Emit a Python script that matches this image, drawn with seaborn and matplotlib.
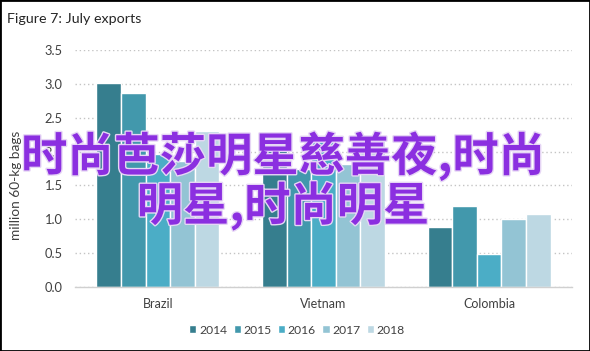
import matplotlib
matplotlib.use('Agg')
import matplotlib.pyplot as plt
import matplotlib.patheffects as pe
from matplotlib.patches import Rectangle
import seaborn as sns
import pandas as pd

countries = ['Brazil', 'Vietnam', 'Colombia']
years = ['2014', '2015', '2016', '2017', '2018']
v2014 = [3.01, 2.21, 0.89]
v2015 = [2.87, 1.75, 1.20]
v2016 = [1.96, 2.19, 0.49]
v2017 = [1.86, 1.82, 1.00]
v2018 = [2.31, 2.22, 1.07]
colors = ['#367e8e', '#4298ac', '#4badc6', '#93c4d4', '#bdd8e3']
yticks = [0.0, 0.5, 1.0, 1.5, 2.0, 2.5, 3.0, 3.5]
title = 'Figure 7: July exports'
ylabel = 'million 60-kg bags'
overlay = '时尚芭莎明星慈善夜,时尚\n明星,时尚明星'

series = [v2014, v2015, v2016, v2017, v2018]
rows = []
for yr, vals in zip(years, series):
    for c, v in zip(countries, vals):
        rows.append({'country': c, 'year': yr, 'value': v})
df = pd.DataFrame(rows)

sns.set_theme(style='white')
plt.rcParams['font.family'] = ['Lato', 'Noto Sans CJK SC', 'DejaVu Sans']

W, H = 590, 351
fig = plt.figure(figsize=(W / 100, H / 100), dpi=100)
ax = fig.add_axes([75 / W, 1 - 286.7 / H, 497 / W, 236.4 / H])

sns.barplot(data=df, x='country', y='value', hue='year', hue_order=years,
            order=countries, palette=colors, width=0.744, gap=0,
            saturation=1, errorbar=None, ax=ax)

ax.set_ylim(0, 3.5)
ax.set_xlim(-0.5, 2.5)
ax.set_yticks(yticks)
ax.set_yticklabels([f'{t:.1f}' for t in yticks])
ax.yaxis.grid(True, linestyle=(0, (1, 2)), color='#c4c4c4', linewidth=1)
ax.set_axisbelow(True)
for s in ['top', 'right', 'left']:
    ax.spines[s].set_visible(False)
ax.spines['bottom'].set_color('#d0d0d0')
ax.spines['bottom'].set_linewidth(1)
ax.tick_params(axis='y', length=0, pad=9, labelsize=9.3, labelcolor='#404040')
ax.tick_params(axis='x', length=0, pad=8, labelsize=9, labelcolor='#404040')
ax.set_xlabel('')
ax.set_ylabel(ylabel, fontsize=9.8, color='#404040')
ax.yaxis.set_label_coords(-0.107, 0.43)

leg = ax.legend(loc='center', bbox_to_anchor=(297 / W, 1 - 330 / H),
                bbox_transform=fig.transFigure, ncol=5, frameon=False,
                handlelength=0.6, handleheight=0.6, columnspacing=0.55,
                handletextpad=0.2, fontsize=8.7)
for t in leg.get_texts():
    t.set_color('#404040')

fig.text(7 / W, 1 - 19 / H, title, ha='left', va='center', fontsize=10.3,
         color='#262626')

fig.text(283 / W, 1 - 181 / H, overlay, ha='center', va='center',
         fontsize=33.3, color='#8b2fe0', fontweight='bold',
         family=['Noto Sans CJK SC', 'DejaVu Sans'], linespacing=1.0,
         path_effects=[pe.withStroke(linewidth=2, foreground='#e6d6f5')])

fig.patches.append(Rectangle((0, 0), 1, 1, transform=fig.transFigure,
                             fill=False, edgecolor='black', linewidth=2))

fig.savefig('out.png', dpi=100)
